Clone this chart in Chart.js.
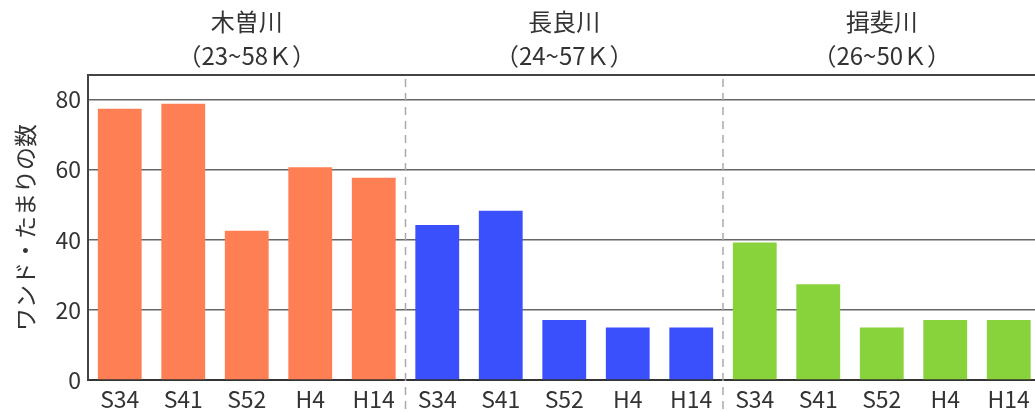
<!DOCTYPE html>
<html>
<head>
<meta charset="utf-8">
<script src="https://cdn.jsdelivr.net/npm/chart.js@4.4.0/dist/chart.umd.min.js"></script>
<style>
  html, body { margin: 0; padding: 0; background: #fff; overflow: hidden; }
  #wrap { width: 1035px; height: 412px; overflow: hidden; }
  #box { width: 1044px; height: 412px; }
</style>
</head>
<body>
<div id="wrap"><div id="box"><canvas id="riverChart"></canvas></div></div>
<script>
// data
const rivers = ['木曽川', '長良川', '揖斐川'];
const reaches = ['（23~58Ｋ）', '（24~57Ｋ）', '（26~50Ｋ）'];
const years = ['S34', 'S41', 'S52', 'H4', 'H14'];
const kisoCounts = [77.4, 78.8, 42.6, 60.7, 57.7];
const nagaraCounts = [44.2, 48.3, 17.1, 15, 15];
const ibiCounts = [39.2, 27.3, 15, 17.1, 17.1];
const riverColors = ['#ff7f55', '#3a50fc', '#88d23c'];

const yTicks = [0, 20, 40, 60, 80];
const yMax = 87;
const yTitle = 'ワンド・たまりの数';

const labels = [].concat(years, years, years);
const counts = [].concat(kisoCounts, nagaraCounts, ibiCounts);
const colors = labels.map((_, i) => riverColors[Math.floor(i / years.length)]);

const fontFamily = '"Noto Sans CJK JP", "Noto Sans", sans-serif';

const groupPlugin = {
    id: 'groupPlugin',
    afterDraw(chart) {
        const ctx = chart.ctx;
        const x = chart.scales.x;
        const area = chart.chartArea;
        ctx.save();

        // top border of plot
        ctx.strokeStyle = '#444';
        ctx.lineWidth = 2;
        ctx.beginPath();
        ctx.moveTo(area.left - 1, area.top);
        ctx.lineTo(chart.width, area.top);
        ctx.stroke();

        // dashed separators between rivers
        ctx.strokeStyle = '#aaa';
        ctx.lineWidth = 1.5;
        ctx.setLineDash([8, 6]);
        for (let g = 1; g < rivers.length; g++) {
            const px = x.getPixelForValue(g * years.length - 0.5);
            ctx.beginPath();
            ctx.moveTo(px, area.top + 4);
            ctx.lineTo(px, chart.height);
            ctx.stroke();
        }
        ctx.setLineDash([]);

        // river titles
        ctx.fillStyle = '#333';
        ctx.textAlign = 'center';
        ctx.textBaseline = 'middle';
        ctx.font = '24px ' + fontFamily;
        rivers.forEach((name, g) => {
            const cx = (x.getPixelForValue(g * years.length) + x.getPixelForValue(g * years.length + years.length - 1)) / 2;
            ctx.fillText(name, cx, 22);
            ctx.fillText(reaches[g], cx, 56);
        });
        ctx.restore();
    }
};

function init() {
    const ctx = document.getElementById('riverChart').getContext('2d');
    new Chart(ctx, {
        type: 'bar',
        data: {
            labels: labels,
            datasets: [{
                data: counts,
                backgroundColor: colors,
                borderWidth: 0,
                categoryPercentage: 1,
                barPercentage: 0.69
            }]
        },
        options: {
            responsive: true,
            maintainAspectRatio: false,
            animation: false,
            layout: { padding: { top: 75, right: 3.5, left: 0, bottom: 0 } },
            plugins: {
                legend: { display: false },
                tooltip: { enabled: false }
            },
            scales: {
                x: {
                    grid: { display: false, drawTicks: false },
                    border: { display: true, color: '#333', width: 2 },
                    ticks: {
                        color: '#333',
                        font: { family: fontFamily, size: 23 },
                        padding: 5,
                        maxRotation: 0,
                        autoSkip: false
                    },
                    afterFit(scale) { scale.height = 32; }
                },
                y: {
                    min: 0,
                    max: yMax,
                    z: 1,
                    grid: { color: '#666', lineWidth: 1.5, drawTicks: false },
                    border: { display: true, color: '#444', width: 2 },
                    ticks: {
                        stepSize: 20,
                        includeBounds: false,
                        color: '#333',
                        padding: 7,
                        font: { family: fontFamily, size: 23 },
                        callback: v => yTicks.includes(v) ? v : ''
                    },
                    title: {
                        display: true,
                        text: yTitle,
                        color: '#333',
                        font: { family: fontFamily, size: 23 },
                        padding: { top: 11, bottom: 0 }
                    },
                    afterFit(scale) { scale.width = 88; }
                }
            }
        },
        plugins: [groupPlugin]
    });
}

document.addEventListener('DOMContentLoaded', init);
</script>
</body>
</html>
